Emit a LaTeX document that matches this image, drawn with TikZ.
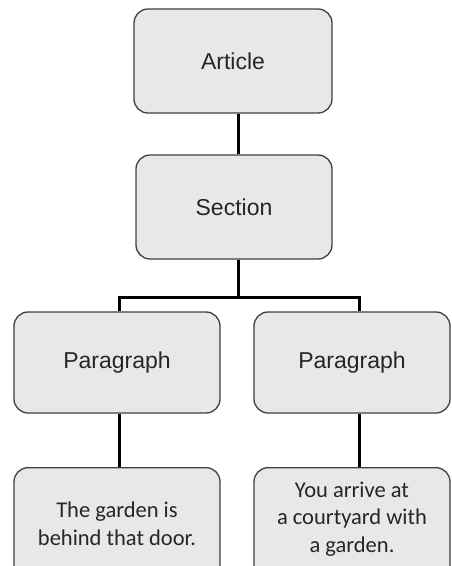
\documentclass[tikz,border=0pt]{standalone}
\usepackage{fontspec}
\setmainfont{Liberation Sans}
\newfontfamily\calib{Carlito}
\begin{document}
\begin{tikzpicture}[x=1pt,y=-1pt,
  box/.style={draw=black!75,line width=1.3pt,fill=black!9,rounded corners=14pt,
    minimum width=#1,inner sep=0pt,align=center,text=black!85},
  big/.style={font=\fontsize{23}{27}\selectfont},
  small/.style={font=\calib\fontsize{22.5}{28}\selectfont,align=center,text=black!85,inner sep=0pt},
  conn/.style={line width=3pt,black}]
\useasboundingbox (0,0) rectangle (451,566);
\clip (0,0) rectangle (451,566);
\node[box=198pt,minimum height=104pt,big] (art) at (233,61) {Article};
\node[box=196pt,minimum height=104pt,big] (sec) at (234,207) {Section};
\node[box=206pt,minimum height=101pt,big] (p1) at (117,362.5) {Paragraph};
\node[box=196pt,minimum height=101pt,big] (p2) at (352,362.5) {Paragraph};
\node[box=206pt,minimum height=130pt,anchor=north] (g1) at (117,467) {};
\node[box=196pt,minimum height=130pt,anchor=north] (g2) at (352,467) {};
\node[small] (t1) at (117,524) {The garden is\\behind that door.};
\node[small,font=\calib\fontsize{22.5}{27.5}\selectfont] (t2) at (352,519) {You arrive at\\a courtyard with\\a garden.};
\coordinate (j) at (238,297);
\draw[conn] ([xshift=5pt]art.south) -- ([xshift=4pt]sec.north);
\draw[conn] ([xshift=4pt]sec.south) -- (j);
\draw[conn] ([xshift=2pt]p1.north) |- (j) -| ([xshift=7pt]p2.north);
\draw[conn] ([xshift=2pt]p1.south) -- ([xshift=2pt]g1.north);
\draw[conn] ([xshift=7pt]p2.south) -- ([xshift=7pt]g2.north);
\end{tikzpicture}
\end{document}
